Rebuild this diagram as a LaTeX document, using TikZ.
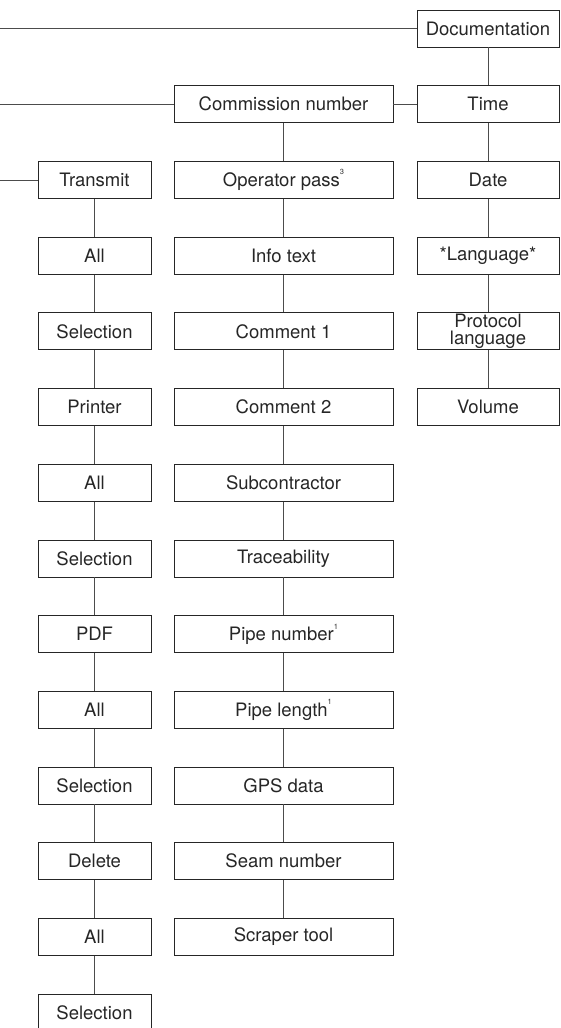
\documentclass[tikz,border=0pt]{standalone}
\usepackage{fontspec}
\setmainfont{TeX Gyre Heros}
\newcommand\supnum[1]{\raisebox{0.6em}{\fontsize{7.5}{7.5}\selectfont #1}}
\begin{document}
\begin{tikzpicture}[x=1pt,y=-1pt,
  box/.style={draw=black!85, line width=0.8pt, text=black!85, inner sep=0pt,
    font=\fontsize{18.5}{16}\selectfont, minimum height=37pt, align=center},
  lbox/.style={box, minimum width=113pt},
  mbox/.style={box, minimum width=219pt},
  rbox/.style={box, minimum width=142pt},
  link/.style={draw=black!70, line width=0.8pt}]
\useasboundingbox (0,0) rectangle (560,1028);
\clip (0,0) rectangle (560,1028);
\def\L{94.5}\def\M{283.5}\def\R{488}
% right column
\node[rbox] (doc)  at (\R,{28.5+75.7*0}) {Documentation};
\node[rbox] (time) at (\R,{28.5+75.7*1}) {Time};
\node[rbox] (date) at (\R,{28.5+75.7*2}) {Date};
\node[rbox] (lang) at (\R,{28.5+75.7*3}) {*Language*};
\node[rbox, font=\fontsize{18.5}{17.5}\selectfont] (prot) at (\R,{28.5+75.7*4}) {Protocol\\language};
\node[rbox] (vol)  at (\R,{28.5+75.7*5}) {Volume};
% middle column
\node[mbox] (com)  at (\M,{28.5+75.7*1}) {Commission number};
\node[mbox] (op)   at (\M,{28.5+75.7*2}) {Operator pass\supnum{3}};
\node[mbox] (info) at (\M,{28.5+75.7*3}) {Info text};
\node[mbox] (c1)   at (\M,{28.5+75.7*4}) {Comment 1};
\node[mbox] (c2)   at (\M,{28.5+75.7*5}) {Comment 2};
\node[mbox] (sub)  at (\M,{28.5+75.7*6}) {Subcontractor};
\node[mbox] (tr)   at (\M,{28.5+75.7*7}) {Traceability};
\node[mbox] (pn)   at (\M,{28.5+75.7*8}) {Pipe number\supnum{1}};
\node[mbox] (pl)   at (\M,{28.5+75.7*9}) {Pipe length\supnum{1}};
\node[mbox] (gps)  at (\M,{28.5+75.7*10}) {GPS data};
\node[mbox] (seam) at (\M,{28.5+75.7*11}) {Seam number};
\node[mbox] (scr)  at (\M,{28.5+75.7*12}) {Scraper tool};
% left column
\node[lbox] (tx)   at (\L,{28.5+75.7*2}) {Transmit};
\node[lbox] (a1)   at (\L,{28.5+75.7*3}) {All};
\node[lbox] (s1)   at (\L,{28.5+75.7*4}) {Selection};
\node[lbox] (prn)  at (\L,{28.5+75.7*5}) {Printer};
\node[lbox] (a2)   at (\L,{28.5+75.7*6}) {All};
\node[lbox] (s2)   at (\L,{28.5+75.7*7}) {Selection};
\node[lbox] (pdf)  at (\L,{28.5+75.7*8}) {PDF};
\node[lbox] (a3)   at (\L,{28.5+75.7*9}) {All};
\node[lbox] (s3)   at (\L,{28.5+75.7*10}) {Selection};
\node[lbox] (del)  at (\L,{28.5+75.7*11}) {Delete};
\node[lbox] (a4)   at (\L,{28.5+75.7*12}) {All};
\node[lbox] (s4)   at (\L,{28.5+75.7*13}) {Selection};
% free ends
\coordinate (eDoc) at (0,{28.5+75.7*0});
\coordinate (eCom) at (0,{28.5+75.7*1});
\coordinate (eTx)  at (0,{28.5+75.7*2});
\draw[link] (doc.west) -- (eDoc);
\draw[link] (com.west) -- (eCom);
\draw[link] (tx.west) -- (eTx);
\draw[link] (com.east) -- (time.west);
\foreach \a/\b in {doc/time,time/date,date/lang,lang/prot,prot/vol,
  com/op,op/info,info/c1,c1/c2,c2/sub,sub/tr,tr/pn,pn/pl,pl/gps,gps/seam,seam/scr,
  tx/a1,a1/s1,s1/prn,prn/a2,a2/s2,s2/pdf,pdf/a3,a3/s3,s3/del,del/a4,a4/s4}
  \draw[link] (\a.south) -- (\b.north);
\end{tikzpicture}
\end{document}
